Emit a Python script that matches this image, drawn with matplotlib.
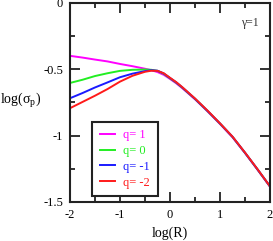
import matplotlib
matplotlib.use("Agg")
import matplotlib.pyplot as plt

plt.rcParams['font.family'] = ['Liberation Serif', 'DejaVu Serif']
plt.rcParams['mathtext.default'] = 'regular'

logR = [-2, -1.75, -1.5, -1.25, -1, -0.75, -0.5, -0.375, -0.25, -0.125, 0, 0.125, 0.25, 0.5, 0.75, 1, 1.25, 1.5, 1.75, 2]
q_labels = ['q= 1', 'q= 0', 'q= -1', 'q= -2']
colors = ['#ff00ff', '#22ee22', '#1a1aff', '#ff1a1a']
sig_q1 = [-0.400, -0.413, -0.428, -0.442, -0.461, -0.478, -0.497, -0.508, -0.522, -0.543, -0.574, -0.607, -0.645, -0.727, -0.818, -0.913, -1.013, -1.132, -1.257, -1.385]
sig_q0 = [-0.604, -0.580, -0.552, -0.531, -0.513, -0.505, -0.503, -0.505, -0.513, -0.535, -0.569, -0.602, -0.641, -0.724, -0.815, -0.910, -1.010, -1.130, -1.255, -1.383]
sig_qm1 = [-0.719, -0.680, -0.638, -0.600, -0.561, -0.534, -0.515, -0.508, -0.512, -0.533, -0.567, -0.600, -0.639, -0.723, -0.814, -0.909, -1.009, -1.129, -1.254, -1.382]
sig_qm2 = [-0.794, -0.747, -0.700, -0.650, -0.594, -0.550, -0.520, -0.512, -0.513, -0.531, -0.565, -0.598, -0.637, -0.721, -0.812, -0.908, -1.008, -1.128, -1.253, -1.382]
series = [sig_q1, sig_q0, sig_qm1, sig_qm2]

fig = plt.figure(figsize=(2.73, 2.41), dpi=100)
ax = fig.add_axes([70/273, 1-202/241, 200/273, 199.3/241])

for ys, c, lab in zip(series, colors, q_labels):
    ax.plot(logR, ys, color=c, lw=1.4, label=lab)

ax.set_xlim(-2, 2)
ax.set_ylim(-1.5, 0)
ax.set_xticks([-2, -1, 0, 1, 2])
ax.set_xticks([-1.5, -0.5, 0.5, 1.5], minor=True)
ax.set_yticks([-1.5, -1, -0.5, 0])
ax.set_yticklabels(['-1.5', '-1', '-0.5', '0'])
ax.set_xticklabels(['-2', '-1', '0', '1', '2'])
ax.set_yticks([-1.25, -0.75, -0.25], minor=True)
ax.tick_params(which='both', direction='in', top=True, right=True, width=1.3, colors='#222222', labelsize=9, labelcolor='black')
ax.tick_params(which='major', length=7, pad=5)
ax.tick_params(which='minor', length=3.5)
for s in ax.spines.values():
    s.set_linewidth(1.5)
    s.set_color('#222222')

ax.set_xlabel('log(R)', fontsize=10, labelpad=4)
fig.text(0.0, 1-100/241, 'log(σ$_p$)', fontsize=10, ha='left', va='center')
ax.text(0.9, 0.9, 'γ=1', transform=ax.transAxes, fontsize=8.5, ha='center', va='center', color='#333333')

leg = ax.legend(loc='lower left', bbox_to_anchor=(0.11, 0.03), borderaxespad=0,
                handlelength=1.2, handletextpad=0.7, labelspacing=0.3,
                fontsize=9, fancybox=False, framealpha=1, edgecolor='#222222',
                borderpad=0.6)
leg.get_frame().set_linewidth(1.5)
for t, c in zip(leg.get_texts(), colors):
    t.set_color(c)
leg.set_zorder(5)

fig.savefig('out.png', dpi=100)
